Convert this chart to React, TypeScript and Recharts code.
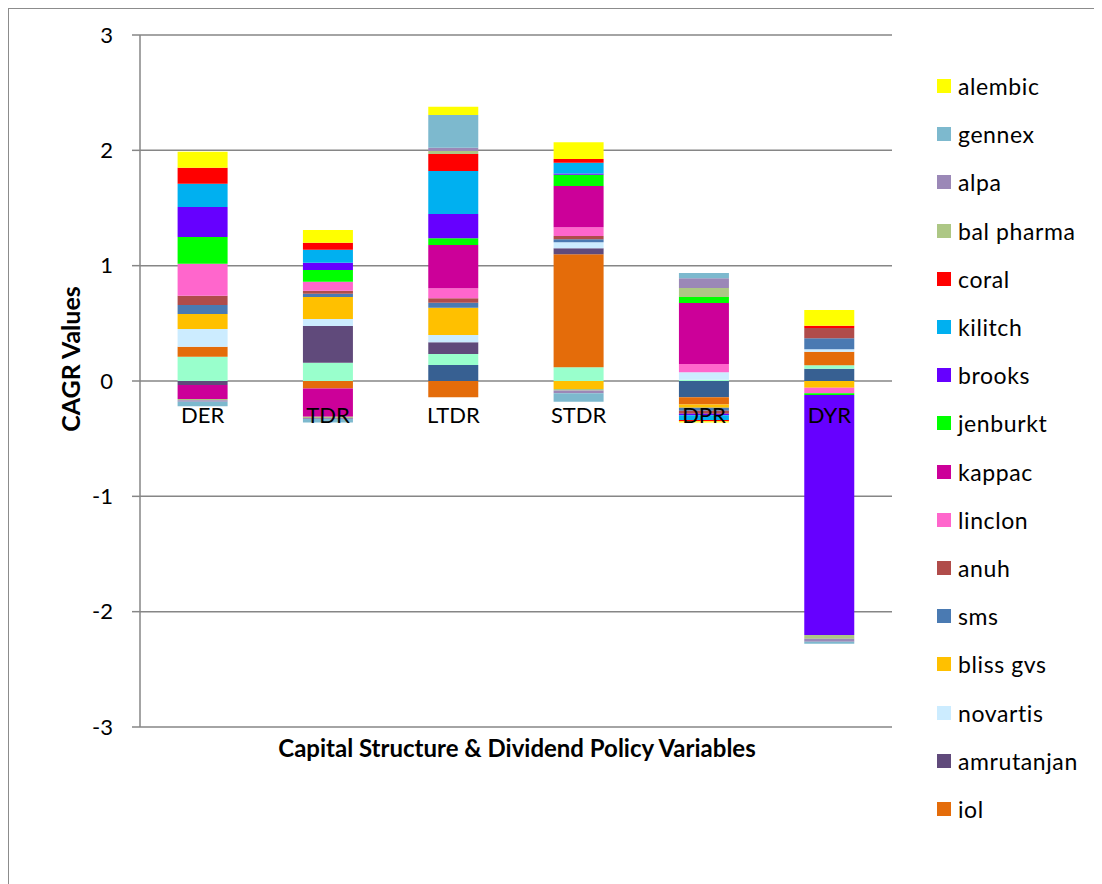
import React from "react";
import { BarChart, Bar, XAxis, YAxis, CartesianGrid, Label } from "recharts";

const categories = ["DER", "TDR", "LTDR", "STDR", "DPR", "DYR"];

// Series in stacking order (first = closest to zero)
const seriesA = [0, 0, 0.139, 0, -0.14, 0.107];
const seriesB = [0.21, 0.159, 0.095, 0.119, 0.01, 0.029];
const iol = [0.087, -0.064, -0.141, 0.979, -0.063, 0.118];
const amrutanjan = [-0.035, 0.318, 0.102, 0.052, 0, 0];
const novartis = [0.153, 0.061, 0.063, 0.052, 0.065, 0.021];
const blissGvs = [0.13, 0.19, 0.237, -0.07, -0.03, -0.058];
const sms = [0.078, 0.029, 0.043, 0.026, -0.025, 0.095];
const anuh = [0.081, 0.026, 0.038, 0.029, -0.025, 0.09];
const linclon = [0.277, 0.078, 0.087, 0.076, 0.072, -0.049];
const kappac = [-0.12, -0.246, 0.375, 0.358, 0.529, 0];
const jenburkt = [0.232, 0.101, 0.058, 0.098, 0.052, -0.015];
const brooks = [0.26, 0.064, 0.211, 0.011, -0.015, -2.08];
const kilitch = [0.202, 0.113, 0.373, 0.093, -0.04, 0];
const coral = [0.139, 0.06, 0.147, 0.032, -0.012, 0.02];
const balPharma = [-0.012, -0.01, 0.026, -0.012, 0.078, -0.032];
const alpa = [-0.012, -0.01, 0.029, -0.025, 0.084, -0.026];
const gennex = [-0.04, -0.03, 0.283, -0.073, 0.046, -0.018];
const alembic = [0.138, 0.11, 0.072, 0.145, -0.01, 0.136];

const yTicks = [-3, -2, -1, 0, 1, 2, 3];

const series = [
  { key: "series a", values: seriesA, color: "#376092", legend: false },
  { key: "series b", values: seriesB, color: "#99FFCC", legend: false },
  { key: "iol", values: iol, color: "#E46C0A", legend: true },
  { key: "amrutanjan", values: amrutanjan, color: "#604A7B", legend: true },
  { key: "novartis", values: novartis, color: "#CCECFF", legend: true },
  { key: "bliss gvs", values: blissGvs, color: "#FFC000", legend: true },
  { key: "sms", values: sms, color: "#4A7AB2", legend: true },
  { key: "anuh", values: anuh, color: "#B04C4A", legend: true },
  { key: "linclon", values: linclon, color: "#FF66CC", legend: true },
  { key: "kappac", values: kappac, color: "#CC0099", legend: true },
  { key: "jenburkt", values: jenburkt, color: "#00FF00", legend: true },
  { key: "brooks", values: brooks, color: "#6600FF", legend: true },
  { key: "kilitch", values: kilitch, color: "#00B0F0", legend: true },
  { key: "coral", values: coral, color: "#FF0000", legend: true },
  { key: "bal pharma", values: balPharma, color: "#ADC785", legend: true },
  { key: "alpa", values: alpa, color: "#9B88B7", legend: true },
  { key: "gennex", values: gennex, color: "#7DB9CE", legend: true },
  { key: "alembic", values: alembic, color: "#FFFF00", legend: true },
];

const data = categories.map((c, i) => {
  const row: Record<string, any> = { name: c };
  series.forEach((s) => (row[s.key] = s.values[i]));
  return row;
});

const FONT = "Lato, 'Open Sans', sans-serif";
const CHART_W = 1093;
const CHART_H = 875;
const PLOT_TOP = 26;
const PLOT_H = 692;
const ZERO_Y = PLOT_TOP + PLOT_H / 2;
const PLOT_BOTTOM = PLOT_TOP + PLOT_H;

const CategoryTick = (props: any) => {
  const { x, payload } = props;
  return (
    <text
      x={x}
      y={ZERO_Y + 42}
      textAnchor="middle"
      fontFamily={FONT}
      fontSize={22}
      fill="#000"
    >
      {payload.value}
    </text>
  );
};

export default function App() {
  const legendItems = series.filter((s) => s.legend).slice().reverse();
  return (
    <div
      style={{
        position: "relative",
        width: 1110,
        height: 890,
        border: "1px solid #8c8c8c",
        background: "#fff",
      }}
    >
      <BarChart
        width={CHART_W}
        height={CHART_H}
        data={data}
        stackOffset="sign"
        barCategoryGap="30%"
        margin={{ top: PLOT_TOP, right: 210, left: 71, bottom: CHART_H - PLOT_BOTTOM - 30 }}
      >
        <CartesianGrid vertical={false} stroke="#868686" strokeWidth={1.5} />
        <XAxis
          dataKey="name"
          axisLine={false}
          tickLine={false}
          height={30}
          tick={<CategoryTick />}
          interval={0}
        >
          <Label
            content={() => (
              <text
                x={508}
                y={748}
                textAnchor="middle"
                fontFamily={FONT}
                fontWeight="bold"
                fontSize={24}
                fill="#000"
              >
                Capital Structure &amp; Dividend Policy Variables
              </text>
            )}
          />
        </XAxis>
        <YAxis
          width={60}
          domain={[-3, 3]}
          ticks={yTicks}
          interval={0}
          allowDataOverflow
          stroke="#868686"
          axisLine={{ stroke: "#868686", strokeWidth: 1.5 }}
          tickLine={{ stroke: "#868686", strokeWidth: 1.5 }}
          tickSize={8}
          tickMargin={19}
          tick={{ fontFamily: FONT, fontSize: 22, fill: "#000" }}
        >
          <Label
            content={() => (
              <text
                x={61}
                y={350}
                transform="rotate(-90 61 350)"
                textAnchor="middle"
                dominantBaseline="central"
                fontFamily={FONT}
                fontWeight="bold"
                fontSize={25}
                fill="#000"
              >
                CAGR Values
              </text>
            )}
          />
        </YAxis>
        {series.map((s) => (
          <Bar
            key={s.key}
            dataKey={s.key}
            stackId="a"
            fill={s.color}
            isAnimationActive={false}
          />
        ))}
      </BarChart>
      <div
        style={{
          position: "absolute",
          left: 928,
          top: 53,
          fontFamily: FONT,
          fontSize: 23,
          letterSpacing: 0.6,
          color: "#000",
        }}
      >
        {legendItems.map((s) => (
          <div
            key={s.key}
            style={{ height: 48.2, display: "flex", alignItems: "center" }}
          >
            <span
              style={{
                display: "inline-block",
                width: 14,
                height: 14,
                background: s.color,
                marginRight: 7,
              }}
            />
            <span>{s.key}</span>
          </div>
        ))}
      </div>
    </div>
  );
}
